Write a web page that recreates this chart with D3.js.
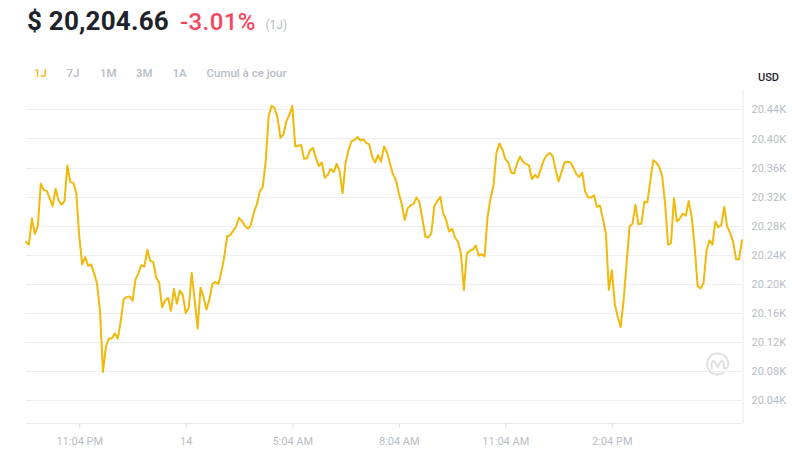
<!DOCTYPE html>
<html><head><meta charset="utf-8">
<script src="https://cdn.jsdelivr.net/npm/d3@7/dist/d3.min.js"></script>
<style>
html,body{margin:0;padding:0;background:#fff;}
svg{display:block;font-family:Roboto,"Noto Sans",sans-serif;}
</style></head>
<body>
<svg id="chart" width="792" height="449"></svg>
<script>
// ---- data ----
const headerPrice = "$ 20,204.66";
const headerChange = "-3.01%";
const headerPeriod = "(1J)";
const tabs = ["1J", "7J", "1M", "3M", "1A", "Cumul à ce jour"];
const currency = "USD";
const startTime = new Date(2022, 6, 13, 21, 34);
const stepMinutes = 5;
const prices = [
20258,20254,20290,20269,20280,20338,20329,20328,20318,20307,
20331,20315,20309,20314,20363,20340,20339,20325,20265,20227,
20237,20225,20227,20215,20201,20164,20079,20114,20125,20125,
20132,20125,20148,20179,20182,20183,20177,20206,20215,20226,
20224,20247,20232,20230,20209,20202,20168,20177,20181,20163,
20193,20173,20191,20185,20160,20167,20215,20179,20139,20195,
20182,20165,20179,20200,20203,20200,20216,20237,20266,20267,
20273,20279,20291,20286,20280,20276,20281,20298,20309,20327,
20333,20368,20430,20445,20442,20429,20401,20405,20424,20432,
20445,20389,20390,20391,20372,20373,20384,20387,20373,20362,
20367,20346,20350,20358,20354,20365,20355,20325,20366,20384,
20396,20398,20402,20397,20399,20394,20392,20375,20367,20377,
20368,20389,20381,20366,20351,20343,20325,20310,20288,20304,
20308,20310,20319,20312,20289,20265,20264,20270,20307,20314,
20320,20297,20288,20272,20276,20264,20258,20242,20192,20242,
20246,20247,20253,20239,20241,20238,20292,20318,20335,20380,
20393,20385,20372,20367,20353,20352,20366,20375,20368,20365,
20363,20344,20350,20346,20358,20370,20377,20380,20376,20357,
20341,20354,20367,20368,20367,20360,20351,20347,20353,20327,
20319,20319,20322,20306,20308,20289,20269,20192,20219,20173,
20155,20141,20178,20228,20279,20283,20309,20282,20283,20313,
20312,20341,20370,20367,20361,20349,20311,20254,20256,20318,
20286,20290,20297,20294,20314,20292,20251,20197,20194,20201,
20246,20260,20254,20286,20278,20281,20306,20279,20270,20258,
20234,20234,20260
];
const yTicks = [20040,20080,20120,20160,20200,20240,20280,20320,20360,20400,20440];
const yDomain = [20009, 20468];
const xTickTimes = [
  new Date(2022, 6, 13, 23, 4), new Date(2022, 6, 14, 2, 4), new Date(2022, 6, 14, 5, 4),
  new Date(2022, 6, 14, 8, 4), new Date(2022, 6, 14, 11, 4), new Date(2022, 6, 14, 14, 4)
];
const xTickLabels = ["11:04 PM", "14", "5:04 AM", "8:04 AM", "11:04 AM", "2:04 PM"];

// ---- layout ----
const L = 26, R = 742, T = 89, B = 423;
const svg = d3.select("#chart");

const points = prices.map((p, i) => ({t: new Date(startTime.getTime() + i * stepMinutes * 60000), v: p}));
const x = d3.scaleTime().domain([points[0].t, points[points.length - 1].t]).range([L, R]);
const y = d3.scaleLinear().domain(yDomain).range([B, T]);

// header
svg.append("text").attr("x", 27).attr("y", 29.5).text(headerPrice)
  .attr("font-size", 26).attr("font-weight", 700).attr("fill", "#1e2329").attr("letter-spacing", 0.2);
svg.append("text").attr("x", 180).attr("y", 29.5).text(headerChange)
  .attr("font-size", 24).attr("font-weight", 500).attr("fill", "#f6465d").attr("letter-spacing", 0.4);
svg.append("text").attr("x", 265.5).attr("y", 28.5).text(headerPeriod)
  .attr("font-size", 12).attr("fill", "#b7bdc6");

// tabs
const tabX = [34, 66.5, 100, 136, 172.5, 206.5];
tabs.forEach((t, i) => {
  svg.append("text").attr("x", tabX[i]).attr("y", 76.5).text(t)
    .attr("font-size", 11.5).attr("font-weight", 500)
    .attr("fill", i === 0 ? "#f0b90b" : "#b7bdc6");
});

// currency label
svg.append("text").attr("x", 758).attr("y", 80.5).text(currency)
  .attr("font-size", 11).attr("font-weight", 500).attr("fill", "#1e2329");

// grid
svg.append("g").selectAll("line").data(yTicks).join("line")
  .attr("x1", L).attr("x2", R)
  .attr("y1", d => Math.round(y(d)) + 0.5).attr("y2", d => Math.round(y(d)) + 0.5)
  .attr("stroke", "#eceef1").attr("stroke-width", 1);

// right axis
const yAxis = d3.axisRight(y).tickValues(yTicks).tickSize(0).tickPadding(9)
  .tickFormat(d => (d / 1000).toFixed(2) + "K");
const gy = svg.append("g").attr("transform", `translate(${R + 0.5},0)`).call(yAxis);
gy.select(".domain").attr("stroke", "#e6e8ea");
gy.selectAll("text").attr("font-size", 11).attr("fill", "#b7bdc6").attr("font-family", "Roboto,sans-serif");

// bottom axis
const xAxis = d3.axisBottom(x).tickValues(xTickTimes).tickSize(4).tickPadding(10)
  .tickFormat((d, i) => xTickLabels[i]);
const gx = svg.append("g").attr("transform", `translate(0,${B + 0.5})`).call(xAxis);
gx.select(".domain").attr("stroke", "#e6e8ea").attr("d", `M${L},0H${R}`);
gx.selectAll(".tick line").attr("stroke", "#d5d8dc");
gx.selectAll("text").attr("font-size", 11).attr("fill", "#b7bdc6").attr("font-family", "Roboto,sans-serif");

// watermark
const wm = svg.append("g").attr("transform", "translate(717.7,364)")
  .attr("fill", "none").attr("stroke", "#e0e0e0").attr("stroke-width", 2).attr("stroke-linecap", "round");
wm.append("path").attr("d", d3.arc()({innerRadius: 10.5, outerRadius: 10.5, startAngle: 2.5, endAngle: 2 * Math.PI + 1.75}));
wm.append("path").attr("d", "M-6,5 L-6,-1 Q-5,-5 -2,-1 L0,3 L2,-1 Q5,-5 6,-1 L6,3 Q7,6 10,3");

// line
const line = d3.line().x(d => x(d.t)).y(d => y(d.v));
svg.append("path").datum(points).attr("d", line)
  .attr("fill", "none").attr("stroke", "#f0b90b").attr("stroke-width", 2)
  .attr("stroke-linejoin", "round").attr("stroke-linecap", "round");
</script>
</body></html>
